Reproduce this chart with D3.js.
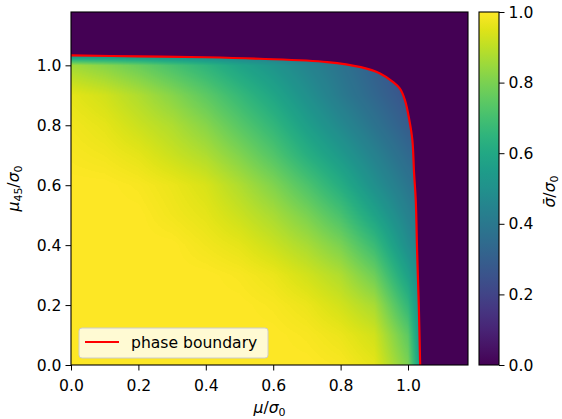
<!DOCTYPE html>
<html>
<head>
  <script src="https://d3js.org/d3.v7.min.js"></script>
  <style>
    body { margin: 0; background: #fff; }
    text { font-family: "DejaVu Sans", sans-serif; fill: #000; }
    .tick text { font-size: 15.6px; }
    .tick line, .domain { stroke: #000; }
  </style>
</head>
<body>
  <div id="chart"></div>
  <script>
    // grid of sigma_bar / sigma_0 (rows: mu45, columns: mu)
    // 1.035 sits on the phase boundary, 1.1 is outside (sigma = 0)
    var muGrid   = [0, 0.1, 0.2, 0.3, 0.4, 0.5, 0.6, 0.7, 0.8, 0.9, 1.0, 1.035, 1.1];
    var mu45Grid = [0, 0.1, 0.2, 0.3, 0.4, 0.5, 0.6, 0.7, 0.8, 0.9, 1.0, 1.035, 1.1];
    var sigmaRows = [
      [1.00, 1.00, 1.00, 1.00, 1.00, 1.00, 1.00, 1.00, 0.99, 0.96, 0.80, 0.55, 0],
      [1.00, 1.00, 1.00, 1.00, 1.00, 1.00, 1.00, 0.99, 0.97, 0.93, 0.75, 0.52, 0],
      [1.00, 1.00, 1.00, 1.00, 1.00, 1.00, 0.99, 0.97, 0.93, 0.87, 0.66, 0.50, 0],
      [1.00, 1.00, 1.00, 1.00, 1.00, 0.99, 0.97, 0.93, 0.88, 0.78, 0.57, 0.47, 0],
      [1.00, 1.00, 1.00, 1.00, 0.98, 0.96, 0.92, 0.87, 0.80, 0.68, 0.49, 0.44, 0],
      [1.00, 1.00, 1.00, 0.98, 0.96, 0.92, 0.87, 0.80, 0.71, 0.58, 0.44, 0.40, 0],
      [1.00, 1.00, 0.99, 0.97, 0.94, 0.88, 0.81, 0.72, 0.62, 0.50, 0.39, 0.36, 0],
      [0.99, 0.98, 0.96, 0.92, 0.88, 0.81, 0.73, 0.63, 0.54, 0.44, 0.34, 0.32, 0],
      [0.98, 0.96, 0.92, 0.88, 0.82, 0.74, 0.66, 0.56, 0.47, 0.38, 0.29, 0.28, 0],
      [0.96, 0.93, 0.88, 0.82, 0.75, 0.67, 0.59, 0.50, 0.41, 0.33, 0.25, 0.24, 0],
      [0.86, 0.82, 0.77, 0.71, 0.65, 0.58, 0.52, 0.45, 0.38, 0.30, 0.22, 0.20, 0],
      [0.46, 0.46, 0.46, 0.45, 0.44, 0.42, 0.40, 0.37, 0.32, 0.25, 0.20, 0.20, 0],
      [0, 0, 0, 0, 0, 0, 0, 0, 0, 0, 0, 0, 0]
    ];

    // phase boundary
    var boundaryMu   = [0, 0.2, 0.4, 0.56, 0.76, 0.86, 0.917, 0.956, 0.976, 0.991, 1.004, 1.013, 1.018, 1.023, 1.027, 1.032, 1.036];
    var boundaryMu45 = [1.033, 1.030, 1.027, 1.022, 1.011, 0.994, 0.973, 0.944, 0.922, 0.883, 0.817, 0.75, 0.64, 0.55, 0.38, 0.2, 0];

    var xTicks = [0, 0.2, 0.4, 0.6, 0.8, 1.0];
    var yTicks = [0, 0.2, 0.4, 0.6, 0.8, 1.0];
    var cbTicks = [0, 0.2, 0.4, 0.6, 0.8, 1.0];
    var extent = 1.178;

    var W = 562, H = 419;
    var pLeft = 71, pRight = 468, pTop = 12, pBottom = 365;

    var svg = d3.select("#chart").append("svg")
      .attr("width", W)
      .attr("height", H);

    var x = d3.scaleLinear().domain([0, extent]).range([pLeft, pRight]);
    var y = d3.scaleLinear().domain([0, extent]).range([pBottom, pTop]);
    var color = d3.scaleSequential(d3.interpolateViridis).domain([0, 1]);

    function cell(grid, v) {
      var i = Math.max(0, Math.min(grid.length - 2, d3.bisectRight(grid, v) - 1));
      var t = Math.max(0, Math.min(1, (v - grid[i]) / (grid[i + 1] - grid[i])));
      return [i, t];
    }

    // bilinear lookup in the read grid, only for shading the image
    function sigmaAt(m, m45) {
      var ci = cell(muGrid, m), cj = cell(mu45Grid, m45);
      var i = ci[0], tx = ci[1], j = cj[0], ty = cj[1];
      var a = sigmaRows[j][i], b = sigmaRows[j][i + 1];
      var c = sigmaRows[j + 1][i], d = sigmaRows[j + 1][i + 1];
      return (a * (1 - tx) + b * tx) * (1 - ty) + (c * (1 - tx) + d * tx) * ty;
    }

    var pw = pRight - pLeft, ph = pBottom - pTop;
    var canvas = document.createElement("canvas");
    canvas.width = pw;
    canvas.height = ph;
    var ctx = canvas.getContext("2d");
    var img = ctx.createImageData(pw, ph);
    for (var py = 0; py < ph; py++) {
      var m45 = y.invert(pTop + py + 0.5);
      for (var px = 0; px < pw; px++) {
        var m = x.invert(pLeft + px + 0.5);
        var c = d3.rgb(color(Math.max(0, Math.min(1, sigmaAt(m, m45)))));
        var k = (py * pw + px) * 4;
        img.data[k] = c.r;
        img.data[k + 1] = c.g;
        img.data[k + 2] = c.b;
        img.data[k + 3] = 255;
      }
    }
    ctx.putImageData(img, 0, 0);

    var boundary = boundaryMu.map(function(d, i) { return [d, boundaryMu45[i]]; });
    var line = d3.line()
      .x(function(d) { return x(d[0]); })
      .y(function(d) { return y(d[1]); })
      .curve(d3.curveCatmullRom);

    var defs = svg.append("defs");
    defs.append("clipPath").attr("id", "inside")
      .append("path")
      .attr("d", "M" + x(0) + "," + y(0) + "L" + line(boundary).slice(1) + "Z");

    var grad = defs.append("linearGradient").attr("id", "cb")
      .attr("x1", 0).attr("y1", 1).attr("x2", 0).attr("y2", 0);
    d3.range(0, 1.0001, 0.05).forEach(function(t) {
      grad.append("stop").attr("offset", t).attr("stop-color", color(t));
    });

    // outside the phase: sigma = 0
    svg.append("rect")
      .attr("x", pLeft).attr("y", pTop)
      .attr("width", pw).attr("height", ph)
      .attr("fill", color(0));

    svg.append("image")
      .attr("x", pLeft).attr("y", pTop)
      .attr("width", pw).attr("height", ph)
      .attr("preserveAspectRatio", "none")
      .attr("clip-path", "url(#inside)")
      .attr("href", canvas.toDataURL());

    svg.append("path")
      .datum(boundary)
      .attr("d", line)
      .attr("fill", "none")
      .attr("stroke", "red")
      .attr("stroke-width", 2.2);

    svg.append("rect")
      .attr("x", pLeft).attr("y", pTop)
      .attr("width", pw).attr("height", ph)
      .attr("fill", "none")
      .attr("stroke", "#000")
      .attr("stroke-width", 1.1);

    var fmt = d3.format(".1f");

    var xAxis = svg.append("g")
      .attr("transform", "translate(0," + pBottom + ")")
      .call(d3.axisBottom(x).tickValues(xTicks).tickFormat(fmt).tickSize(5.5).tickPadding(9.5));
    xAxis.select(".domain").remove();

    var yAxis = svg.append("g")
      .attr("transform", "translate(" + pLeft + ",0)")
      .call(d3.axisLeft(y).tickValues(yTicks).tickFormat(fmt).tickSize(5.5).tickPadding(4));
    yAxis.select(".domain").remove();

    // axis labels
    var xl = svg.append("text")
      .attr("x", (pLeft + pRight) / 2)
      .attr("y", 413)
      .attr("text-anchor", "middle")
      .style("font-size", "15.6px");
    xl.append("tspan").style("font-style", "italic").text("μ");
    xl.append("tspan").text("/");
    xl.append("tspan").style("font-style", "italic").text("σ");
    xl.append("tspan").attr("baseline-shift", "-25%").style("font-size", "11px").text("0");

    var yl = svg.append("text")
      .attr("transform", "translate(19," + (pTop + pBottom) / 2 + ") rotate(-90)")
      .attr("text-anchor", "middle")
      .style("font-size", "15.6px");
    yl.append("tspan").style("font-style", "italic").text("μ");
    yl.append("tspan").attr("baseline-shift", "-25%").style("font-size", "11px").text("45");
    yl.append("tspan").text("/");
    yl.append("tspan").style("font-style", "italic").text("σ");
    yl.append("tspan").attr("baseline-shift", "-25%").style("font-size", "11px").text("0");

    // colorbar
    var cbLeft = 479, cbRight = 499;
    var cy = d3.scaleLinear().domain([0, 1]).range([pBottom, pTop]);
    svg.append("rect")
      .attr("x", cbLeft).attr("y", pTop)
      .attr("width", cbRight - cbLeft).attr("height", ph)
      .attr("fill", "url(#cb)")
      .attr("stroke", "#000")
      .attr("stroke-width", 1.1);

    var cAxis = svg.append("g")
      .attr("transform", "translate(" + cbRight + ",0)")
      .call(d3.axisRight(cy).tickValues(cbTicks).tickFormat(fmt).tickSize(5.5).tickPadding(4));
    cAxis.select(".domain").remove();

    var cl = svg.append("text")
      .attr("transform", "translate(555," + ((pTop + pBottom) / 2 + 3) + ") rotate(-90)")
      .attr("text-anchor", "middle")
      .style("font-size", "15.6px");
    cl.append("tspan").style("font-style", "italic").text("σ\u0304");
    cl.append("tspan").text("/");
    cl.append("tspan").style("font-style", "italic").text("σ");
    cl.append("tspan").attr("baseline-shift", "-25%").style("font-size", "11px").text("0");

    // legend
    var lg = svg.append("g");
    lg.append("rect")
      .attr("x", 79).attr("y", 328)
      .attr("width", 189).attr("height", 30)
      .attr("rx", 3)
      .attr("fill", "#fff")
      .attr("fill-opacity", 0.8)
      .attr("stroke", "#ccc");
    lg.append("line")
      .attr("x1", 85).attr("x2", 119)
      .attr("y1", 342).attr("y2", 342)
      .attr("stroke", "red")
      .attr("stroke-width", 2.2);
    lg.append("text")
      .attr("x", 131).attr("y", 348)
      .style("font-size", "15.6px")
      .text("phase boundary");
  </script>
</body>
</html>
